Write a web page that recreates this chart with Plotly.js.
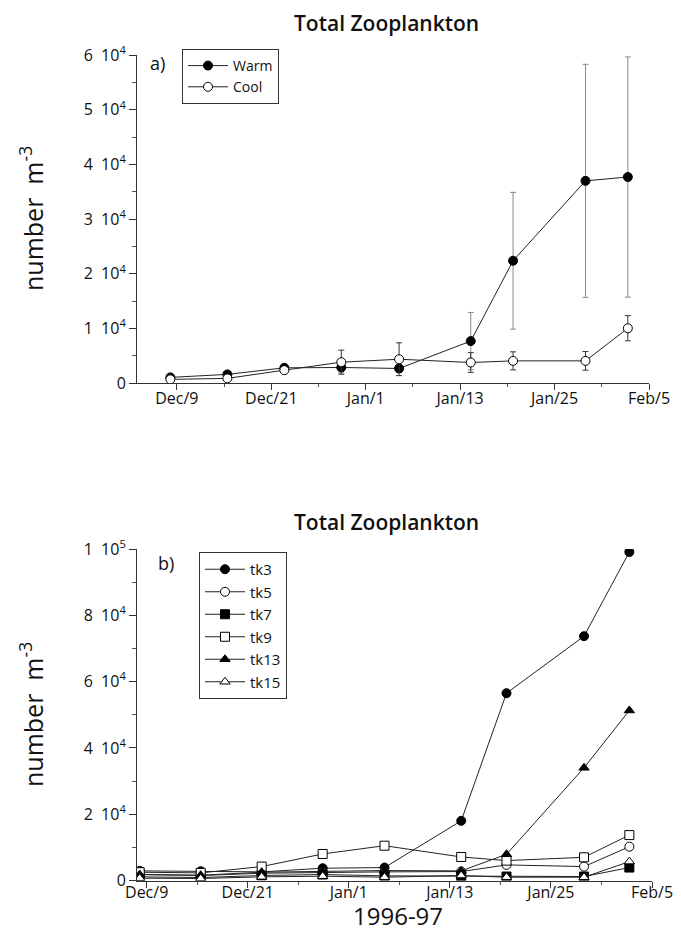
<!DOCTYPE html>
<html>
<head>
<meta charset="utf-8">
<script src="https://cdn.plot.ly/plotly-3.0.1.min.js"></script>
<style>
  html, body { margin: 0; padding: 0; background: #fff; }
  #chart { width: 681px; height: 934px; }
</style>
</head>
<body>
<div id="chart"></div>
<script>
// ---- data (days after Dec 9, 1996) ----
var sampleDays = [-0.8, 6.2, 13.2, 20.2, 27.3, 36.1, 41.3, 50.2, 55.4];

// panel a) treatment means
var warm    = [1080, 1630, 2830, 2890, 2710, 7710, 22400, 37000, 37700];
var warmErr = [300, 300, 400, 1000, 700, 5240, 12500, 21300, 21950];
var cool    = [720, 900, 2400, 3860, 4400, 3800, 4100, 4100, 10060];
var coolErr = [200, 300, 500, 2200, 3000, 1800, 1650, 1700, 2300];

// panel b) individual tanks
var tk3  = [2900, 2800, 2600, 3700, 3900, 18000, 56500, 73700, 99100];
var tk5  = [1800, 1500, 2200, 2500, 2600, 2700, 4700, 4200, 10200];
var tk7  = [1100, 900, 1500, 1800, 1400, 1300, 1200, 1200, 3900];
var tk9  = [2500, 2300, 4200, 8000, 10500, 7100, 6000, 7000, 13700];
var tk13 = [1800, 1600, 2500, 2800, 3000, 2900, 7900, 34000, 51300];
var tk15 = [700, 600, 1100, 1300, 1000, 1500, 1000, 1000, 5700];

// tick labels
var xTickDays   = [0, 11.6, 23.2, 34.8, 46.4, 58];
var xTickLabels = ['Dec/9', 'Dec/21', 'Jan/1', 'Jan/13', 'Jan/25', 'Feb/5'];
var yTopVals    = [0, 10000, 20000, 30000, 40000, 50000, 60000];
var yTopLabels  = ['0', '1\u00a0\u00a010<sup>4</sup>', '2\u00a0\u00a010<sup>4</sup>', '3\u00a0\u00a010<sup>4</sup>',
                   '4\u00a0\u00a010<sup>4</sup>', '5\u00a0\u00a010<sup>4</sup>', '6\u00a0\u00a010<sup>4</sup>'];
var yBotVals    = [0, 20000, 40000, 60000, 80000, 100000];
var yBotLabels  = ['0', '2\u00a0\u00a010<sup>4</sup>', '4\u00a0\u00a010<sup>4</sup>', '6\u00a0\u00a010<sup>4</sup>',
                   '8\u00a0\u00a010<sup>4</sup>', '1\u00a0\u00a010<sup>5</sup>'];

// ---- figure ----
var FONT = 'Open Sans, Lato, DejaVu Sans, sans-serif';
var W = 681, H = 934;
function px(x) { return x / W; }
function py(y) { return (H - y) / H; }

function line(name, y, sym, fill, xa, ya, leg, err, errColor) {
  var t = {
    x: sampleDays, y: y, name: name, type: 'scatter', mode: 'lines+markers',
    xaxis: xa, yaxis: ya, legend: leg,
    line: { color: '#222', width: 1 },
    marker: { symbol: sym, size: 9, color: fill, line: { color: '#000', width: 1 } }
  };
  if (err) {
    t.error_y = { type: 'data', array: err, visible: true, color: errColor, thickness: 1, width: 3 };
  }
  return t;
}

var traces = [
  line('Warm', warm, 'circle', '#000', 'x', 'y', 'legend', warmErr, '#8a8a8a'),
  line('Cool', cool, 'circle', '#fff', 'x', 'y', 'legend', coolErr, '#333'),
  line('tk3',  tk3,  'circle', '#000', 'x2', 'y2', 'legend2'),
  line('tk5',  tk5,  'circle', '#fff', 'x2', 'y2', 'legend2'),
  line('tk7',  tk7,  'square', '#000', 'x2', 'y2', 'legend2'),
  line('tk9',  tk9,  'square', '#fff', 'x2', 'y2', 'legend2'),
  line('tk13', tk13, 'triangle-up', '#000', 'x2', 'y2', 'legend2'),
  line('tk15', tk15, 'triangle-up', '#fff', 'x2', 'y2', 'legend2')
];

var tickFont = { family: FONT, size: 16, color: '#111' };
function xAxis(domain, range, anchor, standoff) {
  return {
    domain: domain, range: range, anchor: anchor,
    tickmode: 'array', tickvals: xTickDays, ticktext: xTickLabels,
    ticks: 'outside', ticklen: 6, tickcolor: '#333', tickwidth: 1,
    ticklabelstandoff: standoff,
    minor: { tick0: 0, dtick: 5.8, ticks: 'outside', ticklen: 3, tickcolor: '#555' },
    showline: true, linecolor: '#333', linewidth: 1,
    showgrid: false, zeroline: false, tickfont: tickFont, fixedrange: true
  };
}
function yAxis(domain, range, anchor, vals, labels, minorStep) {
  return {
    domain: domain, range: range, anchor: anchor,
    tickmode: 'array', tickvals: vals, ticktext: labels,
    ticks: 'outside', ticklen: 7, tickcolor: '#333', tickwidth: 1,
    minor: { tick0: 0, dtick: minorStep, ticks: 'outside', ticklen: 4, tickcolor: '#555' },
    showline: true, linecolor: '#333', linewidth: 1,
    showgrid: false, zeroline: false, tickfont: tickFont, fixedrange: true
  };
}

function label(text, x, y, size, extra) {
  var a = { text: text, xref: 'paper', yref: 'paper', x: px(x), y: py(y),
            xanchor: 'center', yanchor: 'middle', showarrow: false,
            font: { family: FONT, size: size, color: '#111' } };
  if (extra) { for (var k in extra) { a[k] = extra[k]; } }
  return a;
}

var layout = {
  width: W, height: H,
  margin: { l: 0, r: 0, t: 0, b: 0 },
  paper_bgcolor: '#fff', plot_bgcolor: '#fff',
  font: { family: FONT, color: '#111' },
  xaxis:  xAxis([px(137), px(649)], [-4.9, 58.0], 'y', -6),
  yaxis:  yAxis([py(383.3), py(55)], [0, 60000], 'x', yTopVals, yTopLabels, 5000),
  xaxis2: xAxis([px(137), px(652)], [-1.11, 58.0], 'y2', -9),
  yaxis2: yAxis([py(880.5), py(549)], [0, 100000], 'x2', yBotVals, yBotLabels, 10000),
  showlegend: true,
  legend: {
    x: px(182), y: py(49), xanchor: 'left', yanchor: 'top',
    bgcolor: '#fff', bordercolor: '#333', borderwidth: 1,
    font: { family: FONT, size: 14, color: '#111' }, itemwidth: 40, tracegroupgap: 0
  },
  legend2: {
    x: px(199), y: py(552), xanchor: 'left', yanchor: 'top',
    bgcolor: '#fff', bordercolor: '#333', borderwidth: 1,
    font: { family: FONT, size: 15, color: '#111' }, itemwidth: 40, tracegroupgap: 0
  },
  annotations: [
    label('Total Zooplankton', 386, 23, 21, { font: { family: FONT, size: 21, weight: 600, color: '#111' } }),
    label('Total Zooplankton', 386, 522, 21, { font: { family: FONT, size: 21, weight: 600, color: '#111' } }),
    label('a)', 157, 63, 18),
    label('b)', 166, 563, 18),
    label('number  m<sup>-3</sup>', 31, 219, 25, { textangle: -90 }),
    label('number  m<sup>-3</sup>', 31, 715, 25, { textangle: -90 }),
    label('1996-97', 398, 915, 24)
  ]
};

Plotly.newPlot('chart', traces, layout, { staticPlot: true, displayModeBar: false });
</script>
</body>
</html>
